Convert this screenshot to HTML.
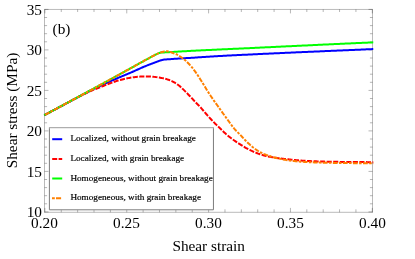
<!DOCTYPE html>
<html><head><meta charset="utf-8"><title>Shear stress vs shear strain</title>
<style>
html,body{margin:0;padding:0;background:#fff;}
body{width:415px;height:259px;overflow:hidden;}
svg{display:block;will-change:transform;}
text{font-family:"Liberation Serif",serif;fill:#000;}
.tl{font-size:15.3px;}
.al{font-size:15.3px;}
.lg{font-size:9.2px;stroke:#000;stroke-width:0.18px;}
</style></head><body>
<svg width="415" height="259" viewBox="0 0 415 259">
<rect x="0" y="0" width="415" height="259" fill="#fff"/>
<rect x="44.5" y="9.45" width="328.0" height="202.85" fill="none" stroke="#000" stroke-opacity="0.27" stroke-width="1"/>
<path d="M44.5 211.90h4.0M372.5 211.90h-4.0M44.5 203.80h2.6M372.5 203.80h-2.6M44.5 195.70h2.6M372.5 195.70h-2.6M44.5 187.60h2.6M372.5 187.60h-2.6M44.5 179.50h2.6M372.5 179.50h-2.6M44.5 171.40h4.0M372.5 171.40h-4.0M44.5 163.30h2.6M372.5 163.30h-2.6M44.5 155.20h2.6M372.5 155.20h-2.6M44.5 147.10h2.6M372.5 147.10h-2.6M44.5 139.00h2.6M372.5 139.00h-2.6M44.5 130.90h4.0M372.5 130.90h-4.0M44.5 122.80h2.6M372.5 122.80h-2.6M44.5 114.70h2.6M372.5 114.70h-2.6M44.5 106.60h2.6M372.5 106.60h-2.6M44.5 98.50h2.6M372.5 98.50h-2.6M44.5 90.40h4.0M372.5 90.40h-4.0M44.5 82.30h2.6M372.5 82.30h-2.6M44.5 74.20h2.6M372.5 74.20h-2.6M44.5 66.10h2.6M372.5 66.10h-2.6M44.5 58.00h2.6M372.5 58.00h-2.6M44.5 49.90h4.0M372.5 49.90h-4.0M44.5 41.80h2.6M372.5 41.80h-2.6M44.5 33.70h2.6M372.5 33.70h-2.6M44.5 25.60h2.6M372.5 25.60h-2.6M44.5 17.50h2.6M372.5 17.50h-2.6M44.5 9.40h4.0M372.5 9.40h-4.0M44.90 212.3v-4.4M44.90 9.4v4.0M61.27 212.3v-3.0M61.27 9.4v2.6M77.64 212.3v-3.0M77.64 9.4v2.6M94.01 212.3v-3.0M94.01 9.4v2.6M110.38 212.3v-3.0M110.38 9.4v2.6M126.75 212.3v-4.4M126.75 9.4v4.0M143.12 212.3v-3.0M143.12 9.4v2.6M159.49 212.3v-3.0M159.49 9.4v2.6M175.86 212.3v-3.0M175.86 9.4v2.6M192.23 212.3v-3.0M192.23 9.4v2.6M208.60 212.3v-4.4M208.60 9.4v4.0M224.97 212.3v-3.0M224.97 9.4v2.6M241.34 212.3v-3.0M241.34 9.4v2.6M257.71 212.3v-3.0M257.71 9.4v2.6M274.08 212.3v-3.0M274.08 9.4v2.6M290.45 212.3v-4.4M290.45 9.4v4.0M306.82 212.3v-3.0M306.82 9.4v2.6M323.19 212.3v-3.0M323.19 9.4v2.6M339.56 212.3v-3.0M339.56 9.4v2.6M355.93 212.3v-3.0M355.93 9.4v2.6M372.30 212.3v-4.4M372.30 9.4v4.0" fill="none" stroke="#000" stroke-opacity="0.34" stroke-width="0.85"/>
<g fill="none" stroke-width="2" stroke-linejoin="round">
<path d="M44.25 115.20L45.25 114.67L46.25 114.13L47.25 113.60L48.25 113.06L49.25 112.53L50.25 112.00L51.25 111.46L52.25 110.93L53.25 110.39L54.25 109.86L55.25 109.33L56.25 108.79L57.25 108.26L58.25 107.72L59.25 107.19L60.25 106.65L61.25 106.12L62.25 105.59L63.25 105.05L64.25 104.52L65.25 103.98L66.25 103.44L67.25 102.90L68.25 102.37L69.25 101.83L70.25 101.28L71.25 100.74L72.25 100.20L73.25 99.66L74.25 99.12L75.25 98.59L76.25 98.05L77.25 97.51L78.25 96.98L79.25 96.44L80.25 95.91L81.25 95.39L82.25 94.86L83.25 94.34L84.25 93.82L85.25 93.30L86.25 92.78L87.25 92.27L88.25 91.75L89.25 91.24L90.25 90.72L91.25 90.21L92.25 89.70L93.25 89.20L94.25 88.70L95.25 88.20L96.25 87.70L97.25 87.22L98.25 86.73L99.25 86.25L100.25 85.78L101.25 85.32L102.25 84.86L103.25 84.40L104.25 83.95L105.25 83.50L106.25 83.06L107.25 82.62L108.25 82.18L109.25 81.74L110.25 81.31L111.25 80.88L112.25 80.45L113.25 80.02L114.25 79.58L115.25 79.15L116.25 78.72L117.25 78.29L118.25 77.86L119.25 77.44L120.25 77.01L121.25 76.59L122.25 76.17L123.25 75.75L124.25 75.33L125.25 74.91L126.25 74.49L127.25 74.07L128.25 73.65L129.25 73.23L130.25 72.81L131.25 72.38L132.25 71.96L133.25 71.53L134.25 71.09L135.25 70.65L136.25 70.20L137.25 69.74L138.25 69.28L139.25 68.82L140.25 68.37L141.25 67.92L142.25 67.47L143.25 67.03L144.25 66.61L145.25 66.20L146.25 65.81L147.25 65.43L148.25 65.05L149.25 64.68L150.25 64.30L151.25 63.92L152.25 63.54L153.25 63.16L154.25 62.78L155.25 62.41L156.25 62.02L157.25 61.64L158.25 61.27L159.25 60.91L160.25 60.54L161.25 60.20L162.25 59.95L163.25 59.75L164.25 59.59L165.25 59.48L166.25 59.39L167.25 59.32L168.25 59.26L169.25 59.20L170.25 59.13L171.25 59.07L172.25 59.00L173.25 58.94L174.25 58.87L175.25 58.81L176.25 58.74L177.25 58.68L178.25 58.62L179.25 58.55L180.25 58.49L181.25 58.43L182.25 58.37L183.25 58.31L184.25 58.25L185.25 58.18L186.25 58.12L187.25 58.06L188.25 58.01L189.25 57.95L190.25 57.88L191.25 57.82L192.25 57.76L193.25 57.70L194.25 57.63L195.25 57.57L196.25 57.50L197.25 57.44L198.25 57.37L199.25 57.31L200.25 57.24L201.25 57.18L202.25 57.11L203.25 57.05L204.25 56.98L205.25 56.91L206.25 56.85L207.25 56.78L208.25 56.72L209.25 56.65L210.25 56.59L211.25 56.53L212.25 56.46L213.25 56.40L214.25 56.34L215.25 56.28L216.25 56.22L217.25 56.16L218.25 56.10L219.25 56.04L220.25 55.99L221.25 55.93L222.25 55.88L223.25 55.82L224.25 55.77L225.25 55.72L226.25 55.66L227.25 55.61L228.25 55.56L229.25 55.51L230.25 55.46L231.25 55.41L232.25 55.36L233.25 55.31L234.25 55.26L235.25 55.21L236.25 55.16L237.25 55.11L238.25 55.06L239.25 55.01L240.25 54.97L241.25 54.92L242.25 54.87L243.25 54.82L244.25 54.78L245.25 54.73L246.25 54.68L247.25 54.63L248.25 54.58L249.25 54.54L250.25 54.49L251.25 54.44L252.25 54.39L253.25 54.34L254.25 54.30L255.25 54.25L256.25 54.20L257.25 54.15L258.25 54.11L259.25 54.06L260.25 54.01L261.25 53.96L262.25 53.92L263.25 53.87L264.25 53.82L265.25 53.78L266.25 53.73L267.25 53.68L268.25 53.64L269.25 53.59L270.25 53.54L271.25 53.50L272.25 53.45L273.25 53.41L274.25 53.36L275.25 53.31L276.25 53.27L277.25 53.22L278.25 53.18L279.25 53.13L280.25 53.09L281.25 53.04L282.25 52.99L283.25 52.95L284.25 52.90L285.25 52.86L286.25 52.81L287.25 52.77L288.25 52.72L289.25 52.68L290.25 52.63L291.25 52.59L292.25 52.54L293.25 52.50L294.25 52.45L295.25 52.41L296.25 52.37L297.25 52.32L298.25 52.28L299.25 52.23L300.25 52.19L301.25 52.14L302.25 52.10L303.25 52.06L304.25 52.01L305.25 51.97L306.25 51.93L307.25 51.88L308.25 51.84L309.25 51.80L310.25 51.76L311.25 51.71L312.25 51.67L313.25 51.63L314.25 51.59L315.25 51.54L316.25 51.50L317.25 51.46L318.25 51.42L319.25 51.38L320.25 51.33L321.25 51.29L322.25 51.25L323.25 51.21L324.25 51.17L325.25 51.12L326.25 51.08L327.25 51.04L328.25 51.00L329.25 50.96L330.25 50.91L331.25 50.87L332.25 50.83L333.25 50.79L334.25 50.74L335.25 50.70L336.25 50.66L337.25 50.62L338.25 50.57L339.25 50.53L340.25 50.49L341.25 50.45L342.25 50.40L343.25 50.36L344.25 50.32L345.25 50.27L346.25 50.23L347.25 50.19L348.25 50.15L349.25 50.10L350.25 50.06L351.25 50.02L352.25 49.97L353.25 49.93L354.25 49.89L355.25 49.84L356.25 49.80L357.25 49.76L358.25 49.71L359.25 49.67L360.25 49.63L361.25 49.58L362.25 49.54L363.25 49.50L364.25 49.45L365.25 49.41L366.25 49.37L367.25 49.32L368.25 49.28L369.25 49.24L370.25 49.19L371.25 49.15L372.25 49.10L373.25 49.06" stroke="#0000ff"/>
<path d="M44.25 115.20L45.25 114.67L46.25 114.14L47.25 113.60L48.25 113.07L49.25 112.54L50.25 112.01L51.25 111.48L52.25 110.95L53.25 110.41L54.25 109.88L55.25 109.35L56.25 108.82L57.25 108.29L58.25 107.76L59.25 107.22L60.25 106.69L61.25 106.16L62.25 105.63L63.25 105.10L64.25 104.57L65.25 104.03L66.25 103.50L67.25 102.96L68.25 102.42L69.25 101.88L70.25 101.34L71.25 100.81L72.25 100.27L73.25 99.73L74.25 99.20L75.25 98.67L76.25 98.14L77.25 97.62L78.25 97.10L79.25 96.58L80.25 96.07L81.25 95.56L82.25 95.05L83.25 94.55L84.25 94.04L85.25 93.54L86.25 93.05L87.25 92.57L88.25 92.09L89.25 91.63L90.25 91.19L91.25 90.76L92.25 90.35L93.25 89.94L94.25 89.54L95.25 89.15L96.25 88.76L97.25 88.38L98.25 87.99L99.25 87.60L100.25 87.20L101.25 86.80L102.25 86.39L103.25 85.98L104.25 85.57L105.25 85.17L106.25 84.77L107.25 84.38L108.25 83.99L109.25 83.62L110.25 83.24L111.25 82.87L112.25 82.50L113.25 82.14L114.25 81.79L115.25 81.45L116.25 81.13L117.25 80.83L118.25 80.53L119.25 80.25L120.25 79.97L121.25 79.71L122.25 79.45L123.25 79.21L124.25 78.97L125.25 78.75L126.25 78.54L127.25 78.33L128.25 78.13L129.25 77.93L130.25 77.75L131.25 77.58L132.25 77.42L133.25 77.29L134.25 77.17L135.25 77.07L136.25 76.96L137.25 76.86L138.25 76.77L139.25 76.68L140.25 76.60L141.25 76.54L142.25 76.49L143.25 76.46L144.25 76.45L145.25 76.45L146.25 76.47L147.25 76.49L148.25 76.51L149.25 76.54L150.25 76.57L151.25 76.61L152.25 76.68L153.25 76.77L154.25 76.88L155.25 77.01L156.25 77.13L157.25 77.26L158.25 77.41L159.25 77.57L160.25 77.75L161.25 77.93L162.25 78.13L163.25 78.34L164.25 78.57L165.25 78.82L166.25 79.08L167.25 79.37L168.25 79.68L169.25 80.03L170.25 80.43L171.25 80.86L172.25 81.33L173.25 81.83L174.25 82.37L175.25 82.97L176.25 83.62L177.25 84.31L178.25 85.04L179.25 85.79L180.25 86.61L181.25 87.50L182.25 88.43L183.25 89.39L184.25 90.36L185.25 91.34L186.25 92.35L187.25 93.39L188.25 94.45L189.25 95.51L190.25 96.56L191.25 97.62L192.25 98.69L193.25 99.76L194.25 100.83L195.25 101.90L196.25 102.95L197.25 103.97L198.25 104.98L199.25 106.01L200.25 107.07L201.25 108.18L202.25 109.33L203.25 110.50L204.25 111.68L205.25 112.86L206.25 114.02L207.25 115.17L208.25 116.29L209.25 117.39L210.25 118.47L211.25 119.54L212.25 120.60L213.25 121.64L214.25 122.67L215.25 123.67L216.25 124.66L217.25 125.64L218.25 126.61L219.25 127.58L220.25 128.54L221.25 129.51L222.25 130.49L223.25 131.46L224.25 132.42L225.25 133.35L226.25 134.25L227.25 135.11L228.25 135.94L229.25 136.74L230.25 137.52L231.25 138.28L232.25 139.03L233.25 139.76L234.25 140.47L235.25 141.17L236.25 141.86L237.25 142.52L238.25 143.17L239.25 143.81L240.25 144.44L241.25 145.07L242.25 145.70L243.25 146.32L244.25 146.93L245.25 147.52L246.25 148.09L247.25 148.63L248.25 149.16L249.25 149.68L250.25 150.17L251.25 150.66L252.25 151.12L253.25 151.57L254.25 152.01L255.25 152.43L256.25 152.83L257.25 153.22L258.25 153.60L259.25 153.95L260.25 154.28L261.25 154.60L262.25 154.90L263.25 155.19L264.25 155.47L265.25 155.73L266.25 155.99L267.25 156.22L268.25 156.44L269.25 156.65L270.25 156.84L271.25 157.03L272.25 157.21L273.25 157.38L274.25 157.54L275.25 157.70L276.25 157.85L277.25 158.00L278.25 158.14L279.25 158.27L280.25 158.40L281.25 158.53L282.25 158.65L283.25 158.77L284.25 158.89L285.25 159.00L286.25 159.11L287.25 159.22L288.25 159.32L289.25 159.42L290.25 159.52L291.25 159.63L292.25 159.73L293.25 159.83L294.25 159.93L295.25 160.03L296.25 160.13L297.25 160.22L298.25 160.32L299.25 160.40L300.25 160.49L301.25 160.57L302.25 160.64L303.25 160.71L304.25 160.76L305.25 160.82L306.25 160.87L307.25 160.93L308.25 160.98L309.25 161.03L310.25 161.08L311.25 161.13L312.25 161.17L313.25 161.22L314.25 161.26L315.25 161.30L316.25 161.34L317.25 161.38L318.25 161.42L319.25 161.46L320.25 161.49L321.25 161.52L322.25 161.56L323.25 161.58L324.25 161.61L325.25 161.64L326.25 161.66L327.25 161.68L328.25 161.71L329.25 161.72L330.25 161.74L331.25 161.76L332.25 161.78L333.25 161.80L334.25 161.81L335.25 161.83L336.25 161.84L337.25 161.86L338.25 161.87L339.25 161.88L340.25 161.90L341.25 161.91L342.25 161.92L343.25 161.93L344.25 161.94L345.25 161.95L346.25 161.96L347.25 161.97L348.25 161.98L349.25 161.99L350.25 162.00L351.25 162.01L352.25 162.02L353.25 162.03L354.25 162.04L355.25 162.04L356.25 162.05L357.25 162.06L358.25 162.07L359.25 162.08L360.25 162.08L361.25 162.09L362.25 162.10L363.25 162.10L364.25 162.11L365.25 162.11L366.25 162.12L367.25 162.13L368.25 162.13L369.25 162.14L370.25 162.14L371.25 162.14L372.25 162.15L373.25 162.15" stroke="#ff0000" stroke-dasharray="5.1 1.45" stroke-dashoffset="1.5"/>
<path d="M44.25 115.20L45.25 114.66L46.25 114.13L47.25 113.59L48.25 113.06L49.25 112.52L50.25 111.99L51.25 111.45L52.25 110.91L53.25 110.38L54.25 109.84L55.25 109.30L56.25 108.77L57.25 108.23L58.25 107.69L59.25 107.16L60.25 106.62L61.25 106.08L62.25 105.54L63.25 105.00L64.25 104.47L65.25 103.93L66.25 103.39L67.25 102.85L68.25 102.31L69.25 101.77L70.25 101.23L71.25 100.69L72.25 100.16L73.25 99.62L74.25 99.08L75.25 98.54L76.25 98.00L77.25 97.46L78.25 96.92L79.25 96.37L80.25 95.83L81.25 95.29L82.25 94.75L83.25 94.21L84.25 93.66L85.25 93.12L86.25 92.58L87.25 92.03L88.25 91.49L89.25 90.95L90.25 90.40L91.25 89.86L92.25 89.31L93.25 88.76L94.25 88.22L95.25 87.67L96.25 87.13L97.25 86.58L98.25 86.03L99.25 85.49L100.25 84.94L101.25 84.39L102.25 83.85L103.25 83.30L104.25 82.75L105.25 82.20L106.25 81.66L107.25 81.11L108.25 80.56L109.25 80.01L110.25 79.46L111.25 78.91L112.25 78.37L113.25 77.82L114.25 77.27L115.25 76.72L116.25 76.17L117.25 75.62L118.25 75.07L119.25 74.52L120.25 73.97L121.25 73.42L122.25 72.87L123.25 72.32L124.25 71.76L125.25 71.21L126.25 70.66L127.25 70.11L128.25 69.56L129.25 69.01L130.25 68.46L131.25 67.91L132.25 67.36L133.25 66.81L134.25 66.26L135.25 65.70L136.25 65.15L137.25 64.60L138.25 64.04L139.25 63.49L140.25 62.94L141.25 62.38L142.25 61.83L143.25 61.28L144.25 60.73L145.25 60.19L146.25 59.64L147.25 59.09L148.25 58.55L149.25 58.01L150.25 57.46L151.25 56.92L152.25 56.36L153.25 55.81L154.25 55.28L155.25 54.76L156.25 54.28L157.25 53.81L158.25 53.37L159.25 53.02L160.25 52.75L161.25 52.58L162.25 52.48L163.25 52.43L164.25 52.39L165.25 52.35L166.25 52.31L167.25 52.26L168.25 52.20L169.25 52.14L170.25 52.09L171.25 52.03L172.25 51.97L173.25 51.91L174.25 51.85L175.25 51.79L176.25 51.74L177.25 51.67L178.25 51.61L179.25 51.55L180.25 51.49L181.25 51.42L182.25 51.36L183.25 51.30L184.25 51.24L185.25 51.19L186.25 51.13L187.25 51.08L188.25 51.02L189.25 50.97L190.25 50.92L191.25 50.86L192.25 50.81L193.25 50.76L194.25 50.71L195.25 50.66L196.25 50.60L197.25 50.55L198.25 50.50L199.25 50.45L200.25 50.40L201.25 50.35L202.25 50.31L203.25 50.26L204.25 50.21L205.25 50.16L206.25 50.11L207.25 50.06L208.25 50.02L209.25 49.97L210.25 49.92L211.25 49.88L212.25 49.83L213.25 49.78L214.25 49.74L215.25 49.69L216.25 49.64L217.25 49.60L218.25 49.55L219.25 49.51L220.25 49.46L221.25 49.42L222.25 49.37L223.25 49.32L224.25 49.28L225.25 49.23L226.25 49.19L227.25 49.14L228.25 49.10L229.25 49.05L230.25 49.01L231.25 48.96L232.25 48.92L233.25 48.87L234.25 48.83L235.25 48.78L236.25 48.74L237.25 48.69L238.25 48.65L239.25 48.60L240.25 48.55L241.25 48.51L242.25 48.46L243.25 48.42L244.25 48.37L245.25 48.32L246.25 48.28L247.25 48.23L248.25 48.18L249.25 48.14L250.25 48.09L251.25 48.04L252.25 47.99L253.25 47.95L254.25 47.90L255.25 47.85L256.25 47.80L257.25 47.76L258.25 47.71L259.25 47.66L260.25 47.61L261.25 47.56L262.25 47.52L263.25 47.47L264.25 47.42L265.25 47.37L266.25 47.33L267.25 47.28L268.25 47.23L269.25 47.18L270.25 47.14L271.25 47.09L272.25 47.04L273.25 46.99L274.25 46.94L275.25 46.90L276.25 46.85L277.25 46.80L278.25 46.75L279.25 46.71L280.25 46.66L281.25 46.61L282.25 46.56L283.25 46.52L284.25 46.47L285.25 46.42L286.25 46.37L287.25 46.32L288.25 46.28L289.25 46.23L290.25 46.18L291.25 46.13L292.25 46.09L293.25 46.04L294.25 45.99L295.25 45.94L296.25 45.90L297.25 45.85L298.25 45.80L299.25 45.75L300.25 45.71L301.25 45.66L302.25 45.61L303.25 45.56L304.25 45.52L305.25 45.47L306.25 45.42L307.25 45.38L308.25 45.33L309.25 45.28L310.25 45.23L311.25 45.19L312.25 45.14L313.25 45.09L314.25 45.05L315.25 45.00L316.25 44.95L317.25 44.90L318.25 44.86L319.25 44.81L320.25 44.76L321.25 44.72L322.25 44.67L323.25 44.62L324.25 44.58L325.25 44.53L326.25 44.48L327.25 44.44L328.25 44.39L329.25 44.35L330.25 44.30L331.25 44.25L332.25 44.21L333.25 44.16L334.25 44.11L335.25 44.07L336.25 44.02L337.25 43.98L338.25 43.93L339.25 43.88L340.25 43.84L341.25 43.79L342.25 43.75L343.25 43.70L344.25 43.66L345.25 43.61L346.25 43.57L347.25 43.52L348.25 43.47L349.25 43.43L350.25 43.38L351.25 43.34L352.25 43.29L353.25 43.25L354.25 43.20L355.25 43.16L356.25 43.12L357.25 43.07L358.25 43.03L359.25 42.98L360.25 42.94L361.25 42.89L362.25 42.85L363.25 42.80L364.25 42.76L365.25 42.71L366.25 42.67L367.25 42.63L368.25 42.58L369.25 42.54L370.25 42.49L371.25 42.45L372.25 42.41L373.25 42.36" stroke="#00ff00"/>
<path d="M44.25 115.20L45.25 114.66L46.25 114.13L47.25 113.59L48.25 113.06L49.25 112.52L50.25 111.99L51.25 111.45L52.25 110.91L53.25 110.38L54.25 109.84L55.25 109.30L56.25 108.77L57.25 108.23L58.25 107.69L59.25 107.16L60.25 106.62L61.25 106.08L62.25 105.54L63.25 105.00L64.25 104.47L65.25 103.93L66.25 103.39L67.25 102.85L68.25 102.31L69.25 101.77L70.25 101.23L71.25 100.69L72.25 100.16L73.25 99.62L74.25 99.08L75.25 98.54L76.25 98.00L77.25 97.46L78.25 96.92L79.25 96.37L80.25 95.83L81.25 95.29L82.25 94.75L83.25 94.21L84.25 93.66L85.25 93.12L86.25 92.58L87.25 92.03L88.25 91.49L89.25 90.95L90.25 90.40L91.25 89.86L92.25 89.31L93.25 88.76L94.25 88.22L95.25 87.67L96.25 87.13L97.25 86.58L98.25 86.03L99.25 85.49L100.25 84.94L101.25 84.39L102.25 83.85L103.25 83.30L104.25 82.75L105.25 82.20L106.25 81.66L107.25 81.11L108.25 80.56L109.25 80.01L110.25 79.46L111.25 78.91L112.25 78.37L113.25 77.82L114.25 77.27L115.25 76.72L116.25 76.17L117.25 75.62L118.25 75.07L119.25 74.52L120.25 73.97L121.25 73.42L122.25 72.87L123.25 72.32L124.25 71.76L125.25 71.21L126.25 70.66L127.25 70.11L128.25 69.56L129.25 69.01L130.25 68.46L131.25 67.91L132.25 67.36L133.25 66.81L134.25 66.26L135.25 65.70L136.25 65.15L137.25 64.60L138.25 64.04L139.25 63.49L140.25 62.94L141.25 62.38L142.25 61.83L143.25 61.28L144.25 60.73L145.25 60.19L146.25 59.64L147.25 59.09L148.25 58.55L149.25 58.01L150.25 57.46L151.25 56.92L152.25 56.36L153.25 55.81L154.25 55.28L155.25 54.76L156.25 54.28L157.25 53.84L158.25 53.41L159.25 53.00L160.25 52.58L161.25 52.22L162.25 51.92L163.25 51.70L164.25 51.53L165.25 51.43L166.25 51.37L167.25 51.36L168.25 51.47L169.25 51.65L170.25 51.94L171.25 52.29L172.25 52.70L173.25 53.09L174.25 53.43L175.25 53.78L176.25 54.21L177.25 54.74L178.25 55.33L179.25 55.98L180.25 56.64L181.25 57.29L182.25 57.96L183.25 58.67L184.25 59.44L185.25 60.31L186.25 61.27L187.25 62.25L188.25 63.24L189.25 64.27L190.25 65.36L191.25 66.51L192.25 67.73L193.25 68.99L194.25 70.30L195.25 71.66L196.25 73.06L197.25 74.54L198.25 76.08L199.25 77.65L200.25 79.23L201.25 80.81L202.25 82.42L203.25 84.05L204.25 85.70L205.25 87.34L206.25 88.98L207.25 90.58L208.25 92.14L209.25 93.68L210.25 95.20L211.25 96.70L212.25 98.18L213.25 99.64L214.25 101.07L215.25 102.48L216.25 103.87L217.25 105.27L218.25 106.68L219.25 108.09L220.25 109.50L221.25 110.91L222.25 112.32L223.25 113.72L224.25 115.12L225.25 116.50L226.25 117.88L227.25 119.24L228.25 120.62L229.25 122.00L230.25 123.39L231.25 124.76L232.25 126.09L233.25 127.39L234.25 128.62L235.25 129.78L236.25 130.86L237.25 131.88L238.25 132.86L239.25 133.84L240.25 134.84L241.25 135.89L242.25 136.97L243.25 138.07L244.25 139.16L245.25 140.23L246.25 141.26L247.25 142.24L248.25 143.19L249.25 144.11L250.25 145.02L251.25 145.89L252.25 146.73L253.25 147.53L254.25 148.28L255.25 149.01L256.25 149.70L257.25 150.37L258.25 151.00L259.25 151.59L260.25 152.13L261.25 152.65L262.25 153.14L263.25 153.61L264.25 154.06L265.25 154.48L266.25 154.89L267.25 155.27L268.25 155.63L269.25 155.98L270.25 156.31L271.25 156.62L272.25 156.92L273.25 157.20L274.25 157.47L275.25 157.72L276.25 157.97L277.25 158.20L278.25 158.42L279.25 158.64L280.25 158.85L281.25 159.05L282.25 159.25L283.25 159.45L284.25 159.65L285.25 159.84L286.25 160.02L287.25 160.19L288.25 160.36L289.25 160.50L290.25 160.63L291.25 160.75L292.25 160.87L293.25 160.98L294.25 161.09L295.25 161.20L296.25 161.30L297.25 161.39L298.25 161.49L299.25 161.57L300.25 161.65L301.25 161.72L302.25 161.79L303.25 161.86L304.25 161.91L305.25 161.97L306.25 162.02L307.25 162.07L308.25 162.12L309.25 162.17L310.25 162.22L311.25 162.26L312.25 162.31L313.25 162.35L314.25 162.39L315.25 162.43L316.25 162.47L317.25 162.50L318.25 162.54L319.25 162.57L320.25 162.60L321.25 162.63L322.25 162.66L323.25 162.69L324.25 162.72L325.25 162.74L326.25 162.76L327.25 162.78L328.25 162.80L329.25 162.82L330.25 162.84L331.25 162.86L332.25 162.88L333.25 162.90L334.25 162.91L335.25 162.93L336.25 162.94L337.25 162.96L338.25 162.97L339.25 162.98L340.25 163.00L341.25 163.01L342.25 163.02L343.25 163.03L344.25 163.04L345.25 163.05L346.25 163.06L347.25 163.07L348.25 163.08L349.25 163.09L350.25 163.10L351.25 163.11L352.25 163.12L353.25 163.13L354.25 163.14L355.25 163.14L356.25 163.15L357.25 163.16L358.25 163.17L359.25 163.18L360.25 163.18L361.25 163.19L362.25 163.20L363.25 163.20L364.25 163.21L365.25 163.21L366.25 163.22L367.25 163.23L368.25 163.23L369.25 163.24L370.25 163.24L371.25 163.24L372.25 163.25L373.25 163.25" stroke="#ff8000" stroke-dasharray="2.55 1.35 4.8 1.35" stroke-dashoffset="2.83"/>
</g>
<!-- legend -->
<rect x="49.4" y="127.7" width="164.05" height="82.1" fill="#fff"/>
<path d="M48.9 127.7H213.95" fill="none" stroke="#9c9c9c" stroke-width="1"/>
<path d="M49.4 128.2V209.8H213.45V128.2" fill="none" stroke="#7c7c7c" stroke-width="1" stroke-linejoin="miter"/>
<g fill="none" stroke-width="2">
<path d="M52.2 139.2h10" stroke="#0000ff"/>
<path d="M52.2 158.9h5m1.4 0h3.6" stroke="#ff0000"/>
<path d="M52.2 178.5h10" stroke="#00ff00"/>
<path d="M52 198.3h2.8m1.2 0h5.1" stroke="#ff8000"/>
</g>
<g class="lg">
<text x="70.4" y="141.3">Localized, without grain breakage</text>
<text x="70.4" y="160.9">Localized, with grain breakage</text>
<text x="70.4" y="180.5">Homogeneous, without grain breakage</text>
<text x="70.4" y="200.2">Homogeneous, with grain breakage</text>
</g>
<!-- tick labels -->
<g class="tl" text-anchor="end">
<text x="42.0" y="14.5">35</text>
<text x="42.0" y="55">30</text>
<text x="42.0" y="95.5">25</text>
<text x="42.0" y="136">20</text>
<text x="42.0" y="176.5">15</text>
<text x="42.0" y="217">10</text>
</g>
<g class="tl" text-anchor="middle">
<text x="44.5" y="228.2">0.20</text>
<text x="126.5" y="228.2">0.25</text>
<text x="208.5" y="228.2">0.30</text>
<text x="290.5" y="228.2">0.35</text>
<text x="372.5" y="228.2">0.40</text>
</g>
<text class="al" x="208.7" y="251" text-anchor="middle">Shear strain</text>
<text class="al" transform="translate(17.3 110.5) rotate(-90)" text-anchor="middle">Shear stress (MPa)</text>
<text class="al" x="52.6" y="34.3">(b)</text>
</svg>
</body></html>
